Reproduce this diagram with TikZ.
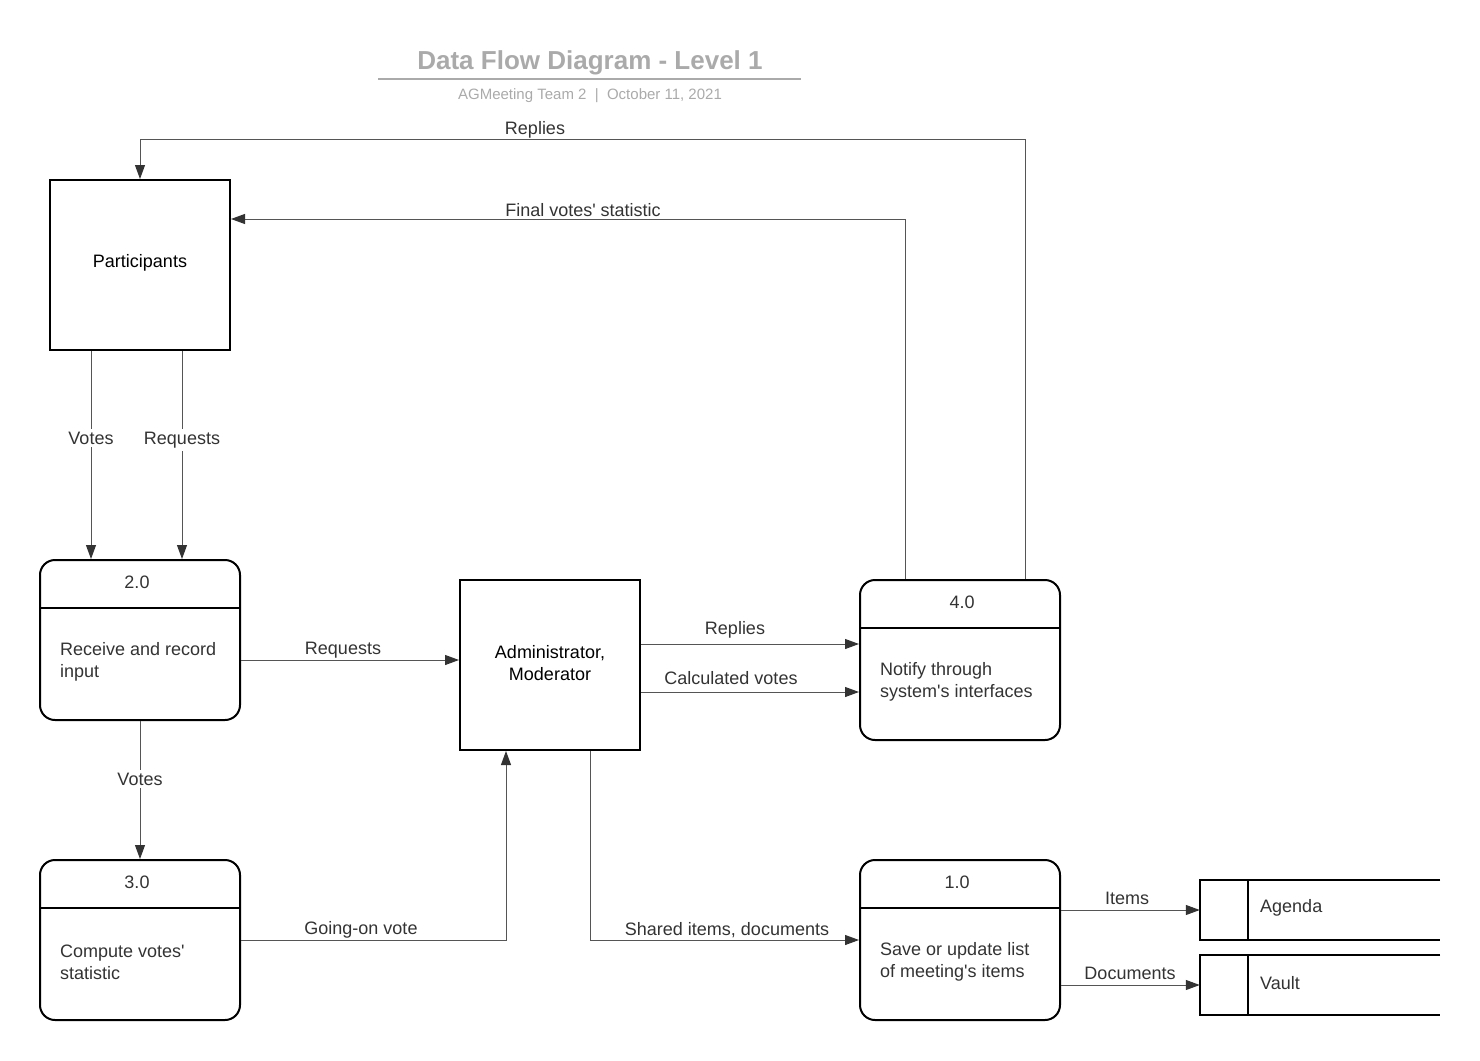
\documentclass[tikz,border=0pt]{standalone}
\usepackage{fontspec}
\setmainfont{Liberation Sans}
\usetikzlibrary{arrows.meta}
\definecolor{lbl}{HTML}{333333}
\definecolor{ln}{HTML}{555555}
\definecolor{tip}{HTML}{333333}
\definecolor{ttl}{HTML}{AAAAAA}
\newcommand{\ap}{\textquotesingle}
\begin{document}
\begin{tikzpicture}[x=1pt,y=-1pt,
  every node/.style={font=\fontsize{18}{22}\selectfont, inner sep=0pt},
  tx/.style={yshift=-1pt},
  entity/.style={draw=black, line width=2pt, minimum width=180, minimum height=170},
  proc/.style={draw=black, line width=2pt, rounded corners=15, minimum width=200, minimum height=160},
  store/.style={minimum width=240, minimum height=60},
  flow/.style={draw=ln, line width=1pt, -{Triangle[length=14pt,width=10pt,fill=tip,color=tip]}},
  lab/.style={tx, text=lbl},
  vlab/.style={tx, text=lbl, fill=white, inner sep=3pt},
  btext/.style={tx, text=lbl, align=left, anchor=west},
]
\useasboundingbox (0,0) rectangle (1480,1060);

% title
\node[tx, font=\fontsize{26}{30}\selectfont\bfseries, text=ttl, yshift=-1pt] (title) at (590,61) {Data Flow Diagram - Level 1};
\draw[ttl, line width=2pt] (378,79) -- (801,79);
\node[tx, font=\fontsize{15}{18}\selectfont, text=ttl] (sub) at (590,95) {AGMeeting Team 2 \ |\ \ October 11, 2021};

% entities
\node[entity] (part) at (140,265) {};
\node[tx] at (140,262) (partt) {Participants};
\node[entity] (admin) at (550,665) {};
\node[tx, align=center] (admint) at (550,662) {Administrator,\\Moderator};

% processes
\node[proc] (p2) at (140,640) {};
\draw[line width=2pt] (p2.west |- 0,608) -- (p2.east |- 0,608);
\node[lab] (p2n) at (137,581) {2.0};
\node[btext] (p2t) at (60,661) {Receive and record\\input};

\node[proc] (p3) at (140,940) {};
\draw[line width=2pt] (p3.west |- 0,908) -- (p3.east |- 0,908);
\node[lab] (p3n) at (137,881) {3.0};
\node[btext] (p3t) at (60,961) {Compute votes\ap\\statistic};

\node[proc] (p4) at (960,660) {};
\draw[line width=2pt] (p4.west |- 0,628) -- (p4.east |- 0,628);
\node[lab] (p4n) at (962,601) {4.0};
\node[btext] (p4t) at (880,681) {Notify through\\system\ap s interfaces};

\node[proc] (p1) at (960,940) {};
\draw[line width=2pt] (p1.west |- 0,908) -- (p1.east |- 0,908);
\node[lab] (p1n) at (957,881) {1.0};
\node[btext] (p1t) at (880,961) {Save or update list\\of meeting\ap s items};

% data stores
\node[store] (agenda) at (1320,910) {};
\draw[line width=2pt] (agenda.north east) -- (agenda.north west) -- (agenda.south west) -- (agenda.south east);
\draw[line width=2pt] (agenda.north west -| 1248,0) -- (agenda.south west -| 1248,0);
\node[btext] (agendat) at (1260,907) {Agenda};

\node[store] (vault) at (1320,985) {};
\draw[line width=2pt] (vault.north east) -- (vault.north west) -- (vault.south west) -- (vault.south east);
\draw[line width=2pt] (vault.north west -| 1248,0) -- (vault.south west -| 1248,0);
\node[btext] (vaultt) at (1260,982) {Vault};

% flows
\draw[flow] (p4.north -| 1025,0) -- (1025,139) -- (140,139) -- (part.north);
\node[lab] (l1) at (535,129) {Replies};

\draw[flow] (p4.north -| 905,0) -- (905,219) -- (part.east |- 0,219);
\node[lab] (l2) at (583,209) {Final votes\ap\ statistic};

\draw[flow] (part.south -| 91,0) -- (p2.north -| 91,0);
\node[vlab] (l3) at (91,437) {Votes};
\draw[flow] (part.south -| 182,0) -- (p2.north -| 182,0);
\node[vlab] (l4) at (182,439) {Requests};

\draw[flow] (p2.east |- 0,660) -- (admin.west |- 0,660);
\node[lab] (l5) at (343,649) {Requests};

\draw[flow] (p2.south) -- (p3.north);
\node[vlab] (l6) at (140,778) {Votes};

\draw[flow] (p3.east |- 0,940) -- (506,940) -- (admin.south -| 506,0);
\node[lab] (l7) at (361,929) {Going-on vote};

\draw[flow] (admin.east |- 0,644) -- (p4.west |- 0,644);
\node[lab] (l8) at (735,629) {Replies};
\draw[flow] (admin.east |- 0,692) -- (p4.west |- 0,692);
\node[lab] (l9) at (731,677) {Calculated votes};

\draw[flow] (admin.south -| 590,0) -- (590,940) -- (p1.west |- 0,940);
\node[lab] (l10) at (727,929) {Shared items, documents};

\draw[flow] (p1.east |- 0,910) -- (agenda.west);
\node[lab] (l11) at (1127,897) {Items};
\draw[flow] (p1.east |- 0,985) -- (vault.west);
\node[lab] (l12) at (1130,972) {Documents};
\end{tikzpicture}
\end{document}
